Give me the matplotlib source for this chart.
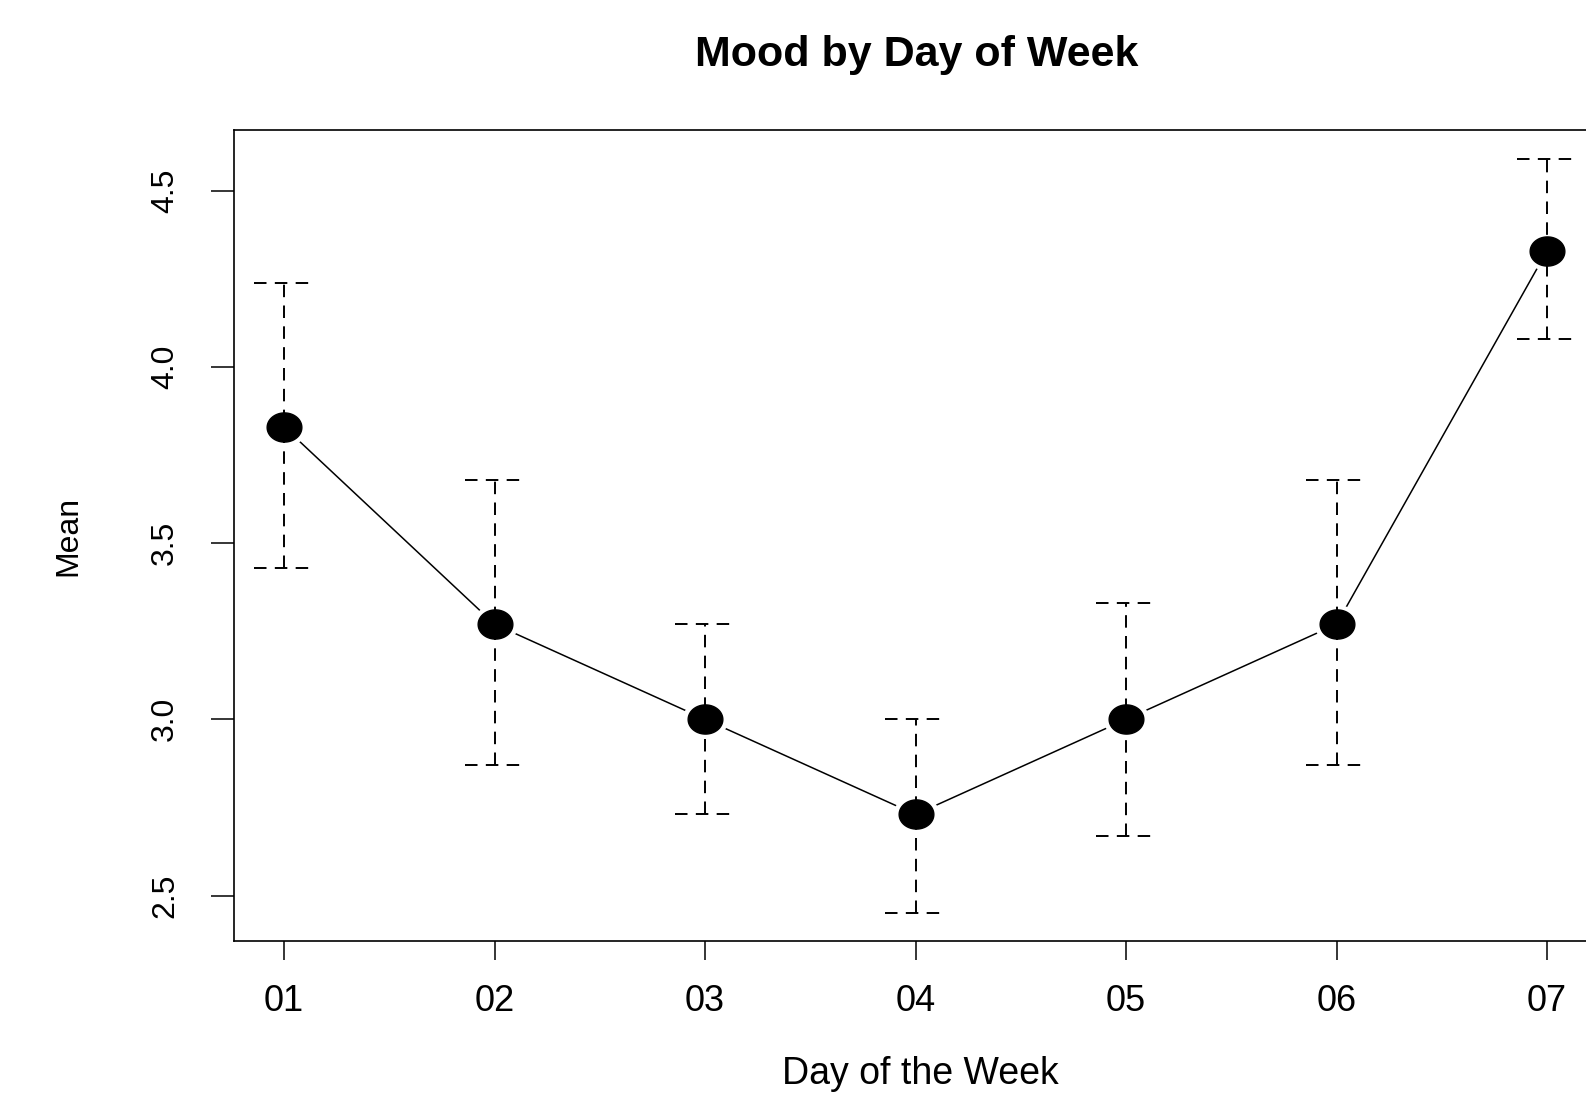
"""
Mean mood by day of week with dashed interval bars.
"""

import matplotlib
matplotlib.use("Agg")
import matplotlib.pyplot as plt
import numpy as np
from matplotlib.path import Path

days = ["01", "02", "03", "04", "05", "06", "07"]
mood_mean = [3.83, 3.27, 3.00, 2.73, 3.00, 3.27, 4.33]
mood_lower = [3.43, 2.87, 2.73, 2.45, 2.67, 2.87, 4.08]
mood_upper = [4.24, 3.68, 3.27, 3.00, 3.33, 3.68, 4.59]
y_ticks = [2.5, 3.0, 3.5, 4.0, 4.5]

plt.rcParams["font.family"] = ["Liberation Sans", "DejaVu Sans"]
plt.rcParams["lines.scale_dashes"] = False

# the original looks stretched sideways, so use an ellipse as the marker
theta = np.linspace(0, 2 * np.pi, 73)
ellipse = Path(np.column_stack([np.cos(theta), 0.84 * np.sin(theta)]), closed=True)

x = np.arange(1, len(days) + 1)
cap = 0.143

fig = plt.figure(figsize=(15.86, 10.94), dpi=100)
ax = fig.add_axes([0.1473, 0.1399, 0.860, 0.7413])

ax.plot(x, mood_mean, color="black", linewidth=1.1, zorder=1)
# white halo leaves the small gap between line and points
ax.plot(x, mood_mean, linestyle="none", marker=ellipse, markersize=32,
        markerfacecolor="white", markeredgecolor="white", zorder=2)

dash = (0, (9, 6))
ax.vlines(x, mood_lower, mood_upper, color="black", linewidth=1.4,
          linestyles=[dash], zorder=3)
ax.hlines(mood_lower, x - cap, x + cap, color="black", linewidth=1.4,
          linestyles=[dash], zorder=3)
ax.hlines(mood_upper, x - cap, x + cap, color="black", linewidth=1.4,
          linestyles=[dash], zorder=3)

ax.plot(x, mood_mean, linestyle="none", marker=ellipse, markersize=25,
        color="black", zorder=4)

ax.set_xlim(0.76, 7.24)
ax.set_ylim(2.371, 4.673)
ax.set_xticks(x)
ax.set_xticklabels(days)
ax.set_yticks(y_ticks)
ax.set_yticklabels([f"{v:.1f}" for v in y_ticks], rotation=90, va="center")

ax.tick_params(axis="x", direction="out", length=13.7, width=1.1,
               labelsize=26, pad=17)
ax.tick_params(axis="y", direction="out", length=16.5, width=1.1,
               labelsize=23, pad=22)
for spine in ax.spines.values():
    spine.set_linewidth(1.2)

fig.text(0.578, 0.94, "Mood by Day of Week", ha="center", va="baseline",
         fontsize=31, fontweight="bold")
fig.text(0.58, 0.0091, "Day of the Week", ha="center", va="baseline",
         fontsize=27)
fig.text(0.0429, 0.5105, "Mean", ha="center", va="center", rotation=90,
         fontsize=23)

fig.savefig("out.png", dpi=100)
